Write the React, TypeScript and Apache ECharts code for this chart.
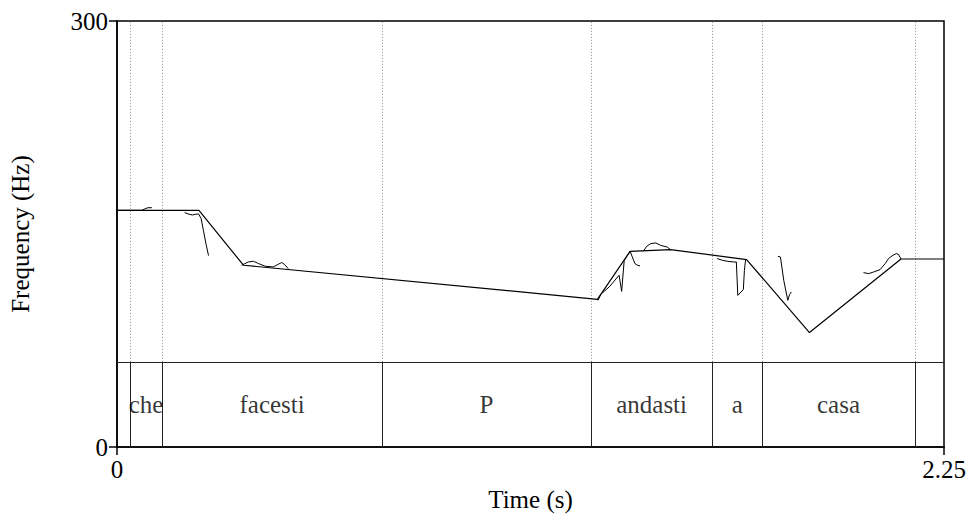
import React, { useEffect, useRef } from "react";
import * as echarts from "echarts";

const FONT = "Liberation Serif";

// Tier boundaries (s) and interval labels
const tierBoundaries = [0.036, 0.122, 0.722, 1.289, 1.62, 1.755, 2.171];
const tierEdges = [0, ...[0.036, 0.122, 0.722, 1.289, 1.62, 1.755, 2.171], 2.25];
const tierLabels = ["", "che", "facesti", "P", "andasti", "a", "casa", ""];
const tierTopHz = 60;

// Stylized pitch (time s, Hz)
const stylized: [number, number][] = [
  [0, 166.7], [0.223, 166.7], [0.344, 128.0], [1.307, 104.0], [1.396, 137.8],
  [1.506, 139.0], [1.713, 132.0], [1.884, 80.6], [2.133, 132.4], [2.25, 132.4],
];

// Raw pitch contour fragments
const raw1: [number, number][] = [[0, 166.7], [0.068, 166.7], [0.076, 167.7], [0.084, 168.5], [0.095, 168.5]];
const raw2: [number, number][] = [
  [0.184, 165.1], [0.196, 163.9], [0.205, 163.4], [0.214, 163.9], [0.222, 164.1],
  [0.229, 160.8], [0.235, 152.6], [0.242, 143.2], [0.249, 134.8],
];
const raw3: [number, number][] = [
  [0.339, 128.0], [0.357, 130.3], [0.371, 130.8], [0.385, 129.2], [0.403, 127.3],
  [0.425, 126.8], [0.439, 128.7], [0.448, 129.9], [0.455, 128.7], [0.466, 125.6],
];
const raw4: [number, number][] = [
  [1.309, 103.3], [1.316, 107.5], [1.339, 112.7], [1.366, 120.9], [1.373, 109.6],
  [1.38, 131.5], [1.396, 137.8], [1.409, 129.2], [1.416, 128.0], [1.423, 127.5],
];
const raw5: [number, number][] = [
  [1.432, 137.8], [1.441, 141.3], [1.452, 143.2], [1.466, 143.7], [1.479, 142.0],
  [1.497, 140.8], [1.506, 139.0],
];
const raw6: [number, number][] = [
  [1.633, 132.7], [1.647, 131.5], [1.66, 130.8], [1.678, 130.3], [1.685, 130.3],
  [1.689, 106.8], [1.704, 110.8], [1.707, 124.4], [1.71, 131.5], [1.713, 132.0],
];
const raw7: [number, number][] = [
  [1.798, 134.3], [1.805, 133.8], [1.814, 117.4], [1.825, 103.3], [1.83, 107.5], [1.835, 109.2],
];
const raw8: [number, number][] = [
  [2.031, 122.8], [2.045, 122.1], [2.058, 123.2], [2.076, 124.9], [2.09, 129.2],
  [2.099, 132.7], [2.111, 135.0], [2.12, 136.2], [2.126, 135.7], [2.133, 132.4],
];
const rawSegments = [raw1, raw2, raw3, raw4, raw5, raw6, raw7, raw8];

const xMin = 0;
const xMax = 2.25;
const yMin = 0;
const yMax = 300;

export default function App() {
  const ref = useRef<HTMLDivElement>(null);
  useEffect(() => {
    if (!ref.current) return;
    const chart = echarts.init(ref.current, undefined, { renderer: "svg" });
    const textStyle = { fontFamily: FONT, fontSize: 25, color: "#000" };
    const series: any[] = [];

    // dotted boundaries in pitch area
    series.push({
      type: "lines",
      coordinateSystem: "cartesian2d",
      silent: true,
      lineStyle: { color: "#8a8a8a", width: 1, type: [1, 2], opacity: 1 },
      data: tierBoundaries.map((t) => ({ coords: [[t, tierTopHz], [t, yMax]] })),
    });
    // tier boundaries (solid)
    series.push({
      type: "lines",
      coordinateSystem: "cartesian2d",
      silent: true,
      lineStyle: { color: "#222", width: 1, opacity: 1 },
      data: [
        ...tierBoundaries.map((t) => ({ coords: [[t, 0], [t, tierTopHz]] })),
        { coords: [[xMin, tierTopHz], [xMax, tierTopHz]] },
      ],
    });
    // tier labels
    series.push({
      type: "scatter",
      symbolSize: 0,
      silent: true,
      label: {
        show: true,
        position: "inside",
        formatter: (p: any) => p.data.name,
        ...textStyle,
      },
      data: tierLabels.map((name, i) => ({
        name,
        value: [(tierEdges[i] + tierEdges[i + 1]) / 2, tierTopHz / 2],
      })),
    });
    // raw contour
    rawSegments.forEach((seg) => {
      series.push({
        type: "line",
        data: seg,
        symbol: "none",
        silent: true,
        lineStyle: { color: "#000", width: 1 },
      });
    });
    // stylized
    series.push({
      type: "line",
      data: stylized,
      symbol: "none",
      silent: true,
      lineStyle: { color: "#000", width: 1.2 },
    });

    chart.setOption({
      animation: false,
      grid: {
        left: 115,
        right: 27,
        top: 21,
        bottom: 73,
        show: true,
        borderColor: "#000",
        borderWidth: 1.5,
        backgroundColor: "transparent",
      },
      xAxis: {
        type: "value",
        min: xMin,
        max: xMax,
        interval: 2.25,
        name: "Time (s)",
        nameLocation: "middle",
        nameGap: 38,
        nameTextStyle: textStyle,
        axisLine: { show: true, onZero: false, lineStyle: { color: "#000", width: 1.5 } },
        axisTick: { show: true, length: 8, lineStyle: { color: "#000", width: 1.5 } },
        axisLabel: {
          ...textStyle,
          margin: 10,
          formatter: (v: number) => (v === 0 ? "0" : "2.25"),
        },
        splitLine: { show: false },
      },
      yAxis: {
        type: "value",
        min: yMin,
        max: yMax,
        interval: 300,
        name: "Frequency (Hz)",
        nameLocation: "middle",
        nameRotate: 90,
        nameGap: 84,
        nameTextStyle: textStyle,
        axisLine: { show: true, onZero: false, lineStyle: { color: "#000", width: 1.5 } },
        axisTick: { show: true, length: 8, lineStyle: { color: "#000", width: 1.5 } },
        axisLabel: { ...textStyle, margin: 9 },
        splitLine: { show: false },
      },
      series,
    });
    return () => chart.dispose();
  }, []);
  return (
    <div
      ref={ref}
      style={{ position: "fixed", left: 0, top: 0, width: 971, height: 520, background: "#fff" }}
    />
  );
}
